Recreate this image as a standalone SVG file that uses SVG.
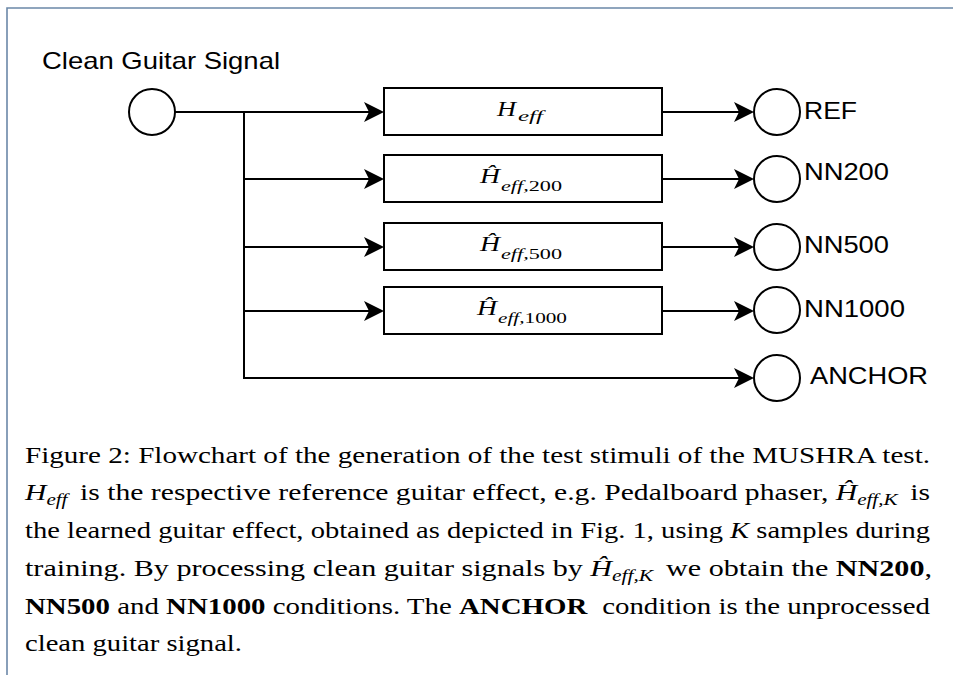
<svg xmlns="http://www.w3.org/2000/svg" width="953" height="675" viewBox="0 0 953 675">
<defs>
<style>
.ln{fill:none;stroke:#000;stroke-width:2}
.nd{fill:#fff;stroke:#000;stroke-width:2}
.lbl{font-family:"Liberation Sans",Arial,sans-serif;font-size:24px;fill:#000}
.mth{font-family:"Liberation Serif","Times New Roman",serif;font-style:italic;fill:#000}
.cap{font-family:"Liberation Serif","Times New Roman",serif;font-size:22.5px;fill:#000}
.it{font-style:italic}
.b{font-weight:bold}
</style>
<marker id="arr" viewBox="-6 -11 22 22" refX="0" refY="0" markerWidth="22" markerHeight="22" markerUnits="userSpaceOnUse" orient="auto">
<path d="M15,0 L-5,-10 L0,0 L-5,10 Z" fill="#000"/>
</marker>
</defs>
<rect width="953" height="675" fill="#fff"/>
<g id="frame">
<path d="M7,675 L7,8 L953,8" fill="none" stroke="#6b88a8" stroke-width="1.6"/>
</g>

<g id="connectors">
<path class="ln" d="M175,112 L369,112" marker-end="url(#arr)"/>
<path class="ln" d="M244,112 L244,378 L739,378" marker-end="url(#arr)"/>
<path class="ln" d="M244,179 L369,179" marker-end="url(#arr)"/>
<path class="ln" d="M244,247 L369,247" marker-end="url(#arr)"/>
<path class="ln" d="M244,311 L369,311" marker-end="url(#arr)"/>
<path class="ln" d="M662,112 L739,112" marker-end="url(#arr)"/>
<path class="ln" d="M662,179 L739,179" marker-end="url(#arr)"/>
<path class="ln" d="M662,247 L739,247" marker-end="url(#arr)"/>
<path class="ln" d="M662,311 L739,311" marker-end="url(#arr)"/>
</g>

<g id="source">
<circle class="nd" cx="152" cy="112" r="23"/>
<text class="lbl" x="42" y="69" textLength="238" lengthAdjust="spacingAndGlyphs">Clean Guitar Signal</text>
</g>

<g id="box-heff">
<rect class="nd" x="384" y="88" width="278" height="47"/>
<text class="mth" x="497" y="116" font-size="20" textLength="19" lengthAdjust="spacingAndGlyphs">H</text>
<text class="mth" x="518" y="121" font-size="15" textLength="25" lengthAdjust="spacingAndGlyphs">eff</text>
</g>
<g id="box-h200">
<rect class="nd" x="384" y="155" width="278" height="47"/>
<text class="mth" x="480" y="183" font-size="20" textLength="20" lengthAdjust="spacingAndGlyphs">Ĥ</text>
<text class="mth" x="501" y="191" font-size="15" textLength="61" lengthAdjust="spacingAndGlyphs">eff,<tspan font-style="normal">200</tspan></text>
</g>
<g id="box-h500">
<rect class="nd" x="384" y="223" width="278" height="47"/>
<text class="mth" x="480" y="251" font-size="20" textLength="20" lengthAdjust="spacingAndGlyphs">Ĥ</text>
<text class="mth" x="501" y="259" font-size="15" textLength="61" lengthAdjust="spacingAndGlyphs">eff,<tspan font-style="normal">500</tspan></text>
</g>
<g id="box-h1000">
<rect class="nd" x="384" y="287" width="278" height="47"/>
<text class="mth" x="477" y="315" font-size="20" textLength="20" lengthAdjust="spacingAndGlyphs">Ĥ</text>
<text class="mth" x="498" y="323" font-size="15" textLength="69" lengthAdjust="spacingAndGlyphs">eff,<tspan font-style="normal">1000</tspan></text>
</g>

<g id="out-ref">
<circle class="nd" cx="777" cy="112" r="23"/>
<text class="lbl" x="804" y="119" textLength="53" lengthAdjust="spacingAndGlyphs">REF</text>
</g>
<g id="out-nn200">
<circle class="nd" cx="777" cy="179" r="23"/>
<text class="lbl" x="804" y="180" textLength="85" lengthAdjust="spacingAndGlyphs">NN200</text>
</g>
<g id="out-nn500">
<circle class="nd" cx="777" cy="247" r="23"/>
<text class="lbl" x="804" y="253" textLength="85" lengthAdjust="spacingAndGlyphs">NN500</text>
</g>
<g id="out-nn1000">
<circle class="nd" cx="777" cy="310" r="23"/>
<text class="lbl" x="804" y="317" textLength="101" lengthAdjust="spacingAndGlyphs">NN1000</text>
</g>
<g id="out-anchor">
<circle class="nd" cx="777" cy="378" r="23"/>
<text class="lbl" x="810" y="384" textLength="118" lengthAdjust="spacingAndGlyphs">ANCHOR</text>
</g>

<g id="caption" class="cap">
<text x="25" y="463" textLength="905" lengthAdjust="spacingAndGlyphs">Figure 2: Flowchart of the generation of the test stimuli of the MUSHRA test.</text>
<text x="25" y="500" textLength="905" lengthAdjust="spacingAndGlyphs"><tspan class="it">H</tspan><tspan class="it" font-size="16" dy="5">eff</tspan><tspan dy="-5" dx="4"> is the respective reference guitar effect, e.g. Pedalboard phaser, </tspan><tspan class="it">Ĥ</tspan><tspan class="it" font-size="16" dy="5">eff,K</tspan><tspan dy="-5" dx="4"> is</tspan></text>
<text x="25" y="538" textLength="905" lengthAdjust="spacingAndGlyphs">the learned guitar effect, obtained as depicted in Fig. 1, using <tspan class="it">K</tspan> samples during</text>
<text x="25" y="576" textLength="907" lengthAdjust="spacingAndGlyphs">training. By processing clean guitar signals by <tspan class="it">Ĥ</tspan><tspan class="it" font-size="16" dy="5">eff,K</tspan><tspan dy="-5" dx="4"> we obtain the </tspan><tspan class="b">NN200</tspan>,</text>
<text x="25" y="614" textLength="905" lengthAdjust="spacingAndGlyphs"><tspan class="b">NN500</tspan> and <tspan class="b">NN1000</tspan> conditions. The <tspan class="b">ANCHOR</tspan><tspan dx="6"> condition is the unprocessed</tspan></text>
<text x="25" y="651" textLength="217" lengthAdjust="spacingAndGlyphs">clean guitar signal.</text>
</g>
</svg>
